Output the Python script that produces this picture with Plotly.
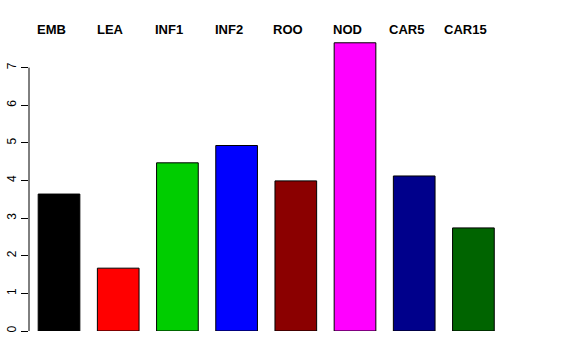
import plotly.graph_objects as go

categories = ["EMB", "LEA", "INF1", "INF2", "ROO", "NOD", "CAR5", "CAR15"]
values = [3.64, 1.67, 4.47, 4.93, 3.99, 7.66, 4.12, 2.74]
colors = ["#000000", "#FF0000", "#00CD00", "#0000FF", "#8B0000", "#FF00FF", "#00008B", "#006400"]
y_ticks = [0, 1, 2, 3, 4, 5, 6, 7]

xs = list(range(len(categories)))

fig = go.Figure()
fig.add_trace(go.Bar(
    x=xs, y=values,
    marker=dict(color=colors, line=dict(color="#000000", width=1)),
    width=0.704,
    hoverinfo="skip",
))

for i, c in enumerate(categories):
    fig.add_annotation(
        x=i, y=1, xref="x", yref="paper", yanchor="bottom", yshift=-9,
        xshift=-8, text="<b>%s</b>" % c, showarrow=False,
        font=dict(family="Liberation Sans, Arial, sans-serif", size=13, color="#000000"),
    )

fig.add_shape(type="line", xref="paper", yref="y", x0=0, x1=0, y0=0, y1=7,
              line=dict(color="#000000", width=1))

fig.update_layout(
    width=576, height=360,
    margin=dict(l=29, r=56, t=30, b=28.5, autoexpand=False),
    paper_bgcolor="white", plot_bgcolor="white",
    showlegend=False,
    font=dict(family="Liberation Sans, Arial, sans-serif", size=12, color="#000000"),
    xaxis=dict(range=[-0.507, 7.787], showticklabels=False, showgrid=False,
               zeroline=False, showline=False, ticks="", automargin=False),
    yaxis=dict(range=[0, 8], tickvals=y_ticks, ticktext=[str(v) for v in y_ticks],
               tickangle=-90, ticks="outside", ticklen=7, tickcolor="#000000",
               showgrid=False, zeroline=False, showline=False, automargin=False,
               tickfont=dict(size=12)),
)

fig.write_html("out.html", config={"displayModeBar": False},
               post_script="document.body.style.margin='0';")
